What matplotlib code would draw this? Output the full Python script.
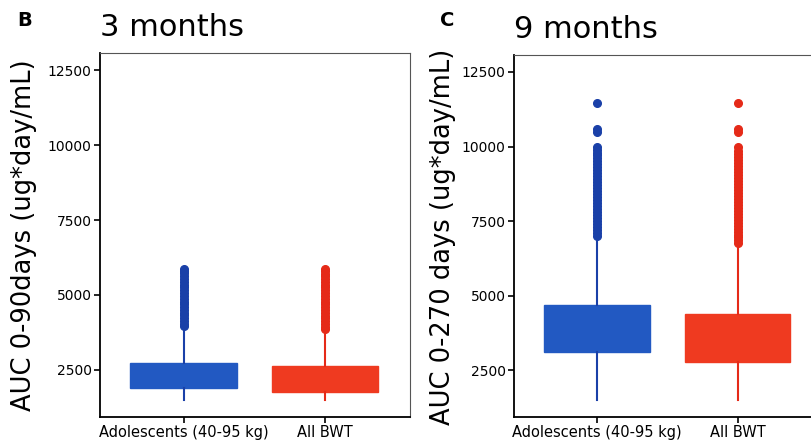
import matplotlib
matplotlib.use("Agg")
import matplotlib.pyplot as plt

# ---------------- data ----------------
groups = ["Adolescents (40-95 kg)", "All BWT"]
panel_titles = ["3 months", "9 months"]
panel_letters = ["B", "C"]
ylabels = ["AUC 0-90days (ug*day/mL)", "AUC 0-270 days (ug*day/mL)"]
yticks = [2500, 5000, 7500, 10000, 12500]

# 3 months
q1_3m = [1900, 1770]
med_3m = [2250, 2150]
q3_3m = [2730, 2630]
wlo_3m = [1500, 1500]
whi_3m = [3900, 3800]
fliers_3m_adol = [3950, 4040, 4130, 4230, 4320, 4410, 4500, 4600, 4690, 4780, 4880,
                  4970, 5060, 5160, 5250, 5340, 5440, 5530, 5620, 5720, 5810, 5880]
fliers_3m_all = [3850, 3940, 4030, 4130, 4220, 4310, 4410, 4500, 4590, 4690, 4780, 4870,
                 4970, 5060, 5150, 5250, 5340, 5430, 5530, 5620, 5710, 5800, 5880]

# 9 months
q1_9m = [3100, 2770]
med_9m = [3800, 3500]
q3_9m = [4700, 4400]
wlo_9m = [1500, 1500]
whi_9m = [6950, 6700]
fliers_9m_adol = [7000, 7100, 7200, 7300, 7400, 7500, 7600, 7700, 7800, 7900, 8000,
                  8100, 8200, 8300, 8400, 8500, 8600, 8700, 8800, 8900, 9000, 9100,
                  9200, 9300, 9400, 9500, 9600, 9700, 9800, 9900, 9980,
                  10500, 10600, 11450]
fliers_9m_all = [6750, 6850, 6950, 7050, 7150, 7250, 7350, 7450, 7550, 7650, 7750,
                 7850, 7950, 8050, 8150, 8250, 8350, 8450, 8550, 8650, 8750, 8850,
                 8950, 9050, 9150, 9250, 9350, 9450, 9550, 9650, 9750, 9850, 9980,
                 10500, 10600, 11450]

box_colors = ["#2259c2", "#ef3a20"]
edge_colors = ["#1a40a8", "#e52a18"]

W, H = 811, 441
fig = plt.figure(figsize=(W / 100, H / 100), dpi=100)

def fx(px):
    return px / W

def fy(py):
    return (H - py) / H

axes_px = [(100, 53, 410, 417), (514, 55, 822, 417)]
panels = [
    (q1_3m, med_3m, q3_3m, wlo_3m, whi_3m, [fliers_3m_adol, fliers_3m_all]),
    (q1_9m, med_9m, q3_9m, wlo_9m, whi_9m, [fliers_9m_adol, fliers_9m_all]),
]
letter_x = [17, 440]
ylabel_x = [24, 443]
ylabel_y = [235, 237]

for i, (l, t, r, b) in enumerate(axes_px):
    ax = fig.add_axes([fx(l), fy(b), fx(r) - fx(l), fy(t) - fy(b)])
    q1, med, q3, wlo, whi, fl = panels[i]
    for j in range(2):
        stats = [dict(q1=q1[j], med=med[j], q3=q3[j], whislo=wlo[j], whishi=whi[j],
                      fliers=fl[j], label=groups[j])]
        ax.bxp(stats, positions=[j], widths=0.75, patch_artist=True, showcaps=False,
               boxprops=dict(facecolor=box_colors[j], edgecolor=box_colors[j], linewidth=1),
               medianprops=dict(color=box_colors[j], linewidth=1),
               whiskerprops=dict(color=edge_colors[j], linewidth=1.5),
               flierprops=dict(marker="o", markersize=5.5, markerfacecolor=edge_colors[j],
                               markeredgecolor=edge_colors[j], linestyle="none"))
    ax.set_xlim(-0.59, 1.6)
    ax.set_ylim(930, 13070)
    ax.set_xticks([0, 1])
    ax.set_xticklabels(groups, fontsize=10.5)
    ax.set_yticks(yticks)
    ax.set_yticklabels([str(v) for v in yticks], fontsize=10)
    ax.tick_params(axis="both", direction="out", length=4, width=1.2, color="black", pad=2)
    for s in ["left", "bottom"]:
        ax.spines[s].set_linewidth(1.3)
        ax.spines[s].set_color("black")
    for s in ["top", "right"]:
        ax.spines[s].set_linewidth(0.8)
        ax.spines[s].set_color("#555555")
    ax.set_title(panel_titles[i], loc="left", fontsize=22, pad=12)
    fig.text(fx(letter_x[i]), fy(20), panel_letters[i], fontsize=14, fontweight="bold",
             ha="left", va="center")
    fig.text(fx(ylabel_x[i]), fy(ylabel_y[i]), ylabels[i], fontsize=18.5, rotation=90,
             ha="center", va="center")

fig.savefig("out.png", dpi=100)
